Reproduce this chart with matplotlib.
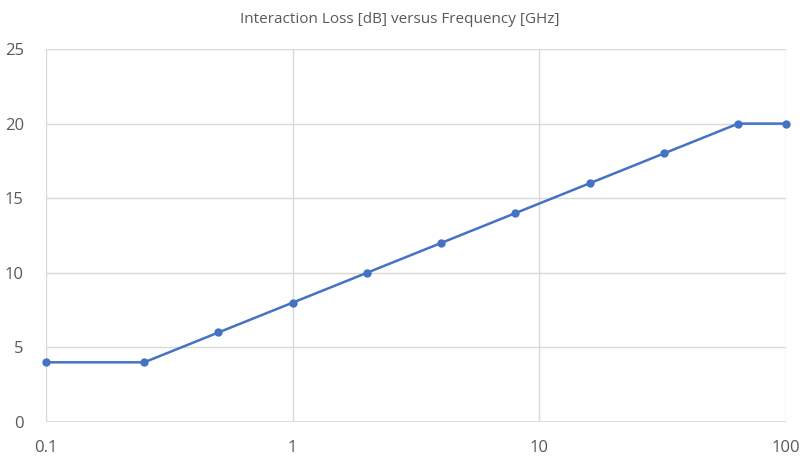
import matplotlib
matplotlib.use('Agg')
import matplotlib.pyplot as plt
from matplotlib.ticker import FixedLocator, FixedFormatter

# data
freq_ghz = [0.1, 0.25, 0.5, 1, 2, 4, 8, 16, 32, 64, 100]
loss_db = [4, 4, 6, 8, 10, 12, 14, 16, 18, 20, 20]
x_ticks = [0.1, 1, 10, 100]
x_labels = ['0.1', '1', '10', '100']
y_ticks = [0, 5, 10, 15, 20, 25]

plt.rcParams['font.family'] = ['Open Sans', 'DejaVu Sans']

fig = plt.figure(figsize=(8, 4.58), dpi=100)
ax = fig.add_axes([0.0575, 0.0786, 0.925, 0.8144])

ax.plot(freq_ghz, loss_db, color='#4472C4', linewidth=1.8, marker='o',
        markersize=5, zorder=3, clip_on=False)

ax.set_xscale('log')
ax.set_xlim(0.1, 100)
ax.set_ylim(0, 25)
ax.xaxis.set_major_locator(FixedLocator(x_ticks))
ax.xaxis.set_major_formatter(FixedFormatter(x_labels))
ax.xaxis.set_minor_locator(FixedLocator([]))
ax.set_yticks(y_ticks)

ax.grid(True, color='#D9D9D9', linewidth=1)
for s in ax.spines.values():
    s.set_visible(False)
ax.axhline(0, color='#D9D9D9', linewidth=1.2, zorder=2)
ax.axvline(0.1, color='#D9D9D9', linewidth=1.2, zorder=2)
ax.tick_params(length=0, labelsize=12, colors='#595959')
ax.tick_params(axis='x', pad=13)
ax.tick_params(axis='y', pad=16)

fig.text(0.5, 0.958, 'Interaction Loss [dB] versus Frequency [GHz]',
         ha='center', va='center', fontsize=11, color='#595959')

fig.savefig('out.png', dpi=100)
